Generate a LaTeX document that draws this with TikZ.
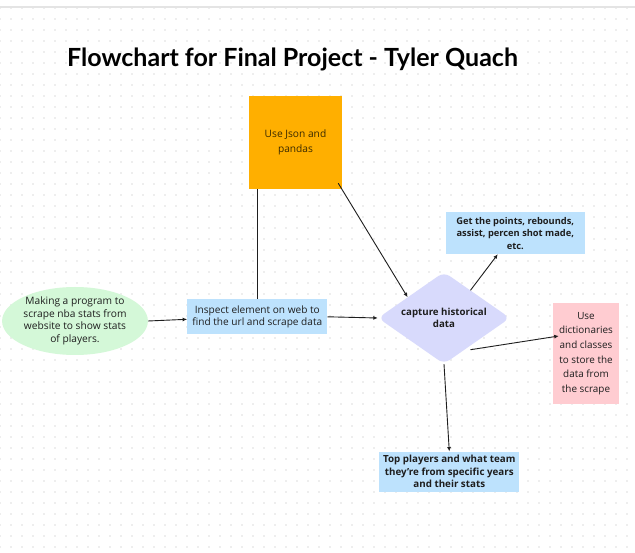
\documentclass[tikz,border=0pt]{standalone}
\usepackage{fontspec}
\setmainfont{Open Sans}
\newfontfamily\titlefont{Lato}
\usetikzlibrary{arrows.meta,shapes.geometric,calc}
\definecolor{dotc}{HTML}{DEDEDE}
\definecolor{topline}{HTML}{E4E4E4}
\definecolor{orangec}{HTML}{FFAF00}
\definecolor{greenc}{HTML}{D4F8D8}
\definecolor{bluec}{HTML}{BDE2FD}
\definecolor{lavc}{HTML}{D8DAFC}
\definecolor{pinkc}{HTML}{FFCCD1}
\definecolor{inkc}{HTML}{1E1E1E}
\definecolor{orangeink}{HTML}{3A2A00}
\tikzset{
  shapebox/.style={rectangle, inner sep=0pt, text=inkc, align=center},
  txt/.style={inner sep=0pt, text=inkc, align=center},
  conn/.style={draw=inkc, line width=0.9pt},
  arr/.style={conn, -{Latex[length=4.5pt,width=4pt]}},
}
\begin{document}
\begin{tikzpicture}[x=1pt,y=-1pt]
\useasboundingbox (0,0) rectangle (635,553);
\fill[white] (0,0) rectangle (635,553);
% dot grid
\foreach \x in {0,11,...,638} {
  \foreach \y in {8,19,...,553} {
    \fill[dotc] (\x,\y) circle (0.85pt);
  }
}
\draw[topline, line width=1.5pt] (0,7) -- (635,7);
% title
\node[anchor=base west, inner sep=0pt, font=\titlefont\bfseries\fontsize{25}{30}\selectfont] (title) at (67,66.5) {Flowchart for Final Project - Tyler Quach};
% shapes
\node[shapebox, fill=orangec, minimum width=92.5pt, minimum height=93.5pt, text=orangeink,
      font=\fontsize{10.2}{15}\selectfont] (js) at (295.5,142.3) {Use Json and\\pandas};
\node[ellipse, fill=greenc, inner sep=0pt, minimum width=142pt, minimum height=68pt, text=inkc, align=center,
      font=\fontsize{10.2}{12.5}\selectfont] (ell) at (75,321) {Making a program to\\scrape nba stats from\\website to show stats\\of players.};
\node[shapebox, fill=bluec, minimum width=140pt, minimum height=35pt,
      font=\fontsize{10.1}{11.7}\selectfont] (insp) at (257.3,316.8) {Inspect element on web to\\find the url and scrape data};
\node[diamond, fill=lavc, inner sep=0pt, minimum width=132pt, minimum height=92pt, rounded corners=7pt] (d) at (444,318) {};
\node[txt, font=\bfseries\fontsize{9.7}{12.3}\selectfont] (dtext) at (d.center) {capture historical\\data};
\node[shapebox, fill=bluec, minimum width=139.5pt, minimum height=41.7pt,
      font=\bfseries\fontsize{9.3}{12.5}\selectfont] (gr) at (515.3,233.2) {Get the points, rebounds,\\assist, percen shot made,\\etc.};
\node[shapebox, fill=pinkc, minimum width=66pt, minimum height=101pt,
      font=\fontsize{9.9}{14.7}\selectfont] (pk) at (586,353.5) {Use\\dictionaries\\and classes\\to store the\\data from\\the scrape};
\node[shapebox, fill=bluec, minimum width=140pt, minimum height=40pt,
      font=\bfseries\fontsize{9.8}{12.5}\selectfont] (bt) at (449.3,471.7) {Top players and what team\\they're from specific years\\and their stats};
% connectors
\draw[arr] (ell.east) -- ([yshift=-2.5pt]insp.west);
\draw[conn] (insp.north) -- (insp.north |- js.south);
\draw[arr] (insp.east) -- (d.west);
\draw[arr] ([shift={(-3.7pt,6pt)}]js.south east) -- ($(d.west)!0.45!(d.north)$);
\draw[arr] ($(d.north)!0.4!(d.east)$) -- ([xshift=-17.5pt]gr.south);
\draw[arr] ($(d.east)!0.6!(d.south)+(0,4)$) -- ([shift={(6pt,17.5pt)}]pk.west);
\draw[arr] (d.south) -- (bt.north);
\end{tikzpicture}
\end{document}
